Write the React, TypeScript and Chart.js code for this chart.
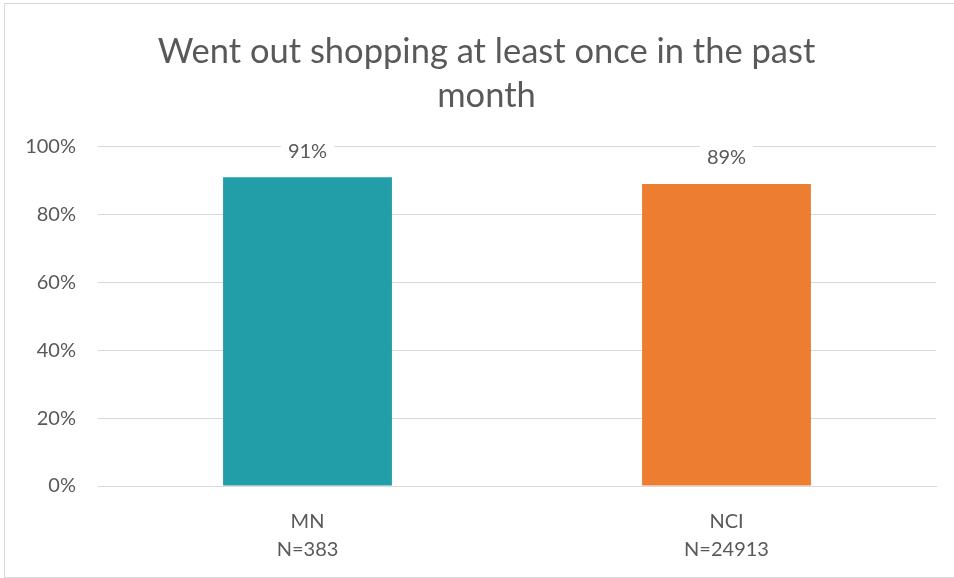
import React, { useEffect, useRef } from "react";
import { Chart, registerables } from "chart.js";

Chart.register(...registerables);

const titleLines = ["Went out shopping at least once in the past", "month"];
const categories = [["MN", "N=383"], ["NCI", "N=24913"]];
const values = [91, 89];
const barColors = ["#219EA8", "#ED7D31"];
const yTicks = [0, 20, 40, 60, 80, 100];

const FONT = "Lato, 'Open Sans', sans-serif";
const GREY = "#595959";

const labelPlugin = {
  id: "barLabels",
  afterDatasetsDraw(chart: any) {
    const ctx = chart.ctx;
    const meta = chart.getDatasetMeta(0);
    ctx.save();
    ctx.font = `20px ${FONT}`;
    ctx.textAlign = "center";
    ctx.textBaseline = "middle";
    meta.data.forEach((bar: any, i: number) => {
      const text = `${values[i]}%`;
      const y = bar.y - 26;
      const w = ctx.measureText(text).width + 14;
      ctx.fillStyle = "#ffffff";
      ctx.fillRect(bar.x - w / 2, y - 12, w, 24);
      ctx.fillStyle = GREY;
      ctx.fillText(text, bar.x, y);
    });
    ctx.restore();
  },
};

export default function App() {
  const ref = useRef<HTMLCanvasElement>(null);
  useEffect(() => {
    document.body.style.margin = "0";
    const chart = new Chart(ref.current!, {
      type: "bar",
      data: {
        labels: categories,
        datasets: [
          {
            data: values,
            backgroundColor: barColors,
            barPercentage: 0.403,
            categoryPercentage: 1,
          },
        ],
      },
      options: {
        animation: false,
        responsive: false,
        maintainAspectRatio: false,
        layout: { padding: { left: 18, right: 17, top: 10, bottom: -2 } },
        plugins: {
          legend: { display: false },
          tooltip: { enabled: false },
          title: {
            display: true,
            text: titleLines,
            color: GREY,
            font: { family: FONT, size: 34.5, weight: "normal", lineHeight: 1.3 },
            padding: { top: 15, bottom: 28 },
          },
        },
        scales: {
          x: {
            grid: { display: false },
            border: { color: "#d9d9d9", width: 1 },
            ticks: {
              color: GREY,
              font: { family: FONT, size: 20, lineHeight: 1.4 },
              padding: 14,
            },
          },
          y: {
            min: 0,
            max: 100,
            afterBuildTicks: (axis: any) => {
              axis.ticks = yTicks.map((v) => ({ value: v }));
            },
            afterFit: (axis: any) => {
              axis.width = 75;
            },
            grid: { color: "#d9d9d9", lineWidth: 1, drawTicks: false },
            border: { display: false },
            ticks: {
              color: GREY,
              font: { family: FONT, size: 20 },
              padding: 22,
              callback: (v: any) => `${v}%`,
            },
          },
          yRight: {
            position: "right",
            display: true,
            min: 0,
            max: 100,
            grid: { display: false, drawTicks: false },
            border: { display: false },
            ticks: { display: false },
            afterFit: (axis: any) => {
              axis.width = 14;
            },
          },
        },
      },
      plugins: [labelPlugin],
    });
    return () => chart.destroy();
  }, []);
  return (
    <div
      style={{
        position: "absolute",
        left: 4,
        top: 3,
        width: 970,
        height: 573,
        border: "1px solid #d9d9d9",
        background: "#fff",
      }}
    >
      <canvas ref={ref} width={962} height={572} style={{ display: "block" }} />
    </div>
  );
}
